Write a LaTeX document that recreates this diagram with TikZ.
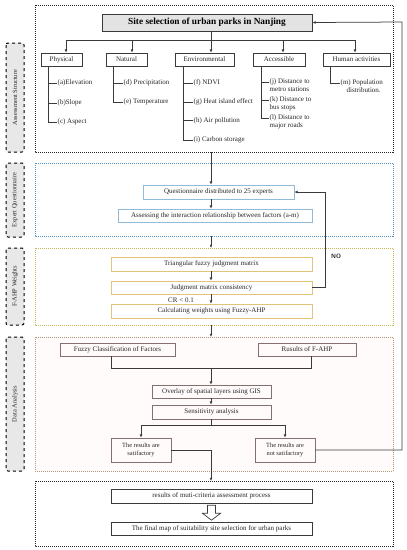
\documentclass[tikz,border=0pt]{standalone}
\usepackage{fontspec}
\setmainfont{Liberation Serif}
\usetikzlibrary{arrows.meta,calc}
\definecolor{txt}{HTML}{262626}
\definecolor{ln}{HTML}{3A3A3A}
\definecolor{bluefr}{HTML}{4F93C6}
\definecolor{bluebx}{HTML}{8FBCDD}
\definecolor{yelfr}{HTML}{C9B54E}
\definecolor{yelbx}{HTML}{E2C377}
\definecolor{brnfr}{HTML}{B4947A}
\definecolor{brnbx}{HTML}{857070}
\newcommand{\fs}{\fontsize{7.0}{8.0}\selectfont}
\newcommand{\fss}{\fontsize{6.4}{7.4}\selectfont}
\begin{document}
\begin{tikzpicture}[x=1pt,y=-1pt,
  frame/.style={line width=1pt, densely dotted},
  sidelbl/.style={draw=black, dashed, line width=1pt, rounded corners=2pt, fill=gray!18,
    rotate=90, minimum height=18, inner sep=0pt, font=\fss, text=txt},
  box/.style={draw, line width=0.65pt, inner sep=1pt, font=\fs, text=txt, align=center},
  catbox/.style={box, draw=ln, minimum height=13},
  item/.style={font=\fs, text=txt, inner sep=0.5pt, anchor=west, align=left},
  conn/.style={draw=ln, line width=0.75pt},
  arr/.style={conn, -{Latex[length=3.2pt,width=2.8pt]}}
]
\useasboundingbox (0,0) rectangle (407,550);

% side labels
\node[sidelbl, minimum width=109] (l1) at (15,97.5) {Assessment Structure};
\node[sidelbl, minimum width=74] (l2) at (15,200) {Expert Questionnaire};
\node[sidelbl, minimum width=77] (l3) at (15,286.5) {F-AHP Weights};
\node[sidelbl, minimum width=134] (l4) at (15,404) {Data Analysis};

% frames
\draw[frame, draw=black!85] (35,5) rectangle (393,152);
\draw[frame, draw=bluefr] (35,163) rectangle (393,236);
\draw[frame, draw=yelfr] (35,248) rectangle (393,325);
\draw[frame, draw=brnfr, fill=red!1.5] (35,337) rectangle (393,471);
\draw[frame, draw=black!85] (35,481) rectangle (393,546);
\coordinate (f1b) at (211,152);
\coordinate (f2t) at (211,163);
\coordinate (f2b) at (211,236);
\coordinate (f3t) at (211,248);
\coordinate (f3b) at (211,325);
\coordinate (f4t) at (211,337);
\coordinate (f5t) at (211,481);

% title
\node[draw=ln, line width=0.8pt, fill=gray!22, minimum width=210, minimum height=17, inner sep=0pt,
  font=\fontsize{9.3}{10.5}\selectfont\bfseries, text=black] (title) at (207,22.5) {Site selection of urban parks in Nanjing};

% categories
\node[catbox, minimum width=41] (phys) at (61.5,59.5) {Physical};
\node[catbox, minimum width=41] (nat) at (126.5,59.5) {Natural};
\node[catbox, minimum width=59] (env) at (204.5,59.5) {Environmental};
\node[catbox, minimum width=52] (acc) at (279,59.5) {Accessible};
\node[catbox, minimum width=67] (hum) at (356.5,59.5) {Human activities};

\coordinate (b1) at (66,40);
\coordinate (b2) at (132,40);
\coordinate (b3) at (211,40);
\coordinate (b4) at (283,40);
\coordinate (b5) at (355,40);
\draw[conn] (b1) -- (b5);
\draw[conn] (title.south -| b3) -- (b3);
\draw[arr] (b1) -- (b1 |- phys.north);
\draw[arr] (b2) -- (b2 |- nat.north);
\draw[arr] (b3) -- (b3 |- env.north);
\draw[arr] (b4) -- (b4 |- acc.north);
\draw[arr] (b5) -- (b5 |- hum.north);

% physical items
\node[item] (ia) at (57,83) {(a)Elevation};
\node[item] (ib) at (57,103) {(b)Slope};
\node[item] (ic) at (57,122) {(c) Aspect};
\coordinate (vp) at (48,66);
\draw[conn] (vp) -- (vp |- ic.west) -- (ic.west);
\draw[conn] (vp |- ia.west) -- (ia.west);
\draw[conn] (vp |- ib.west) -- (ib.west);

% natural items
\node[item] (id) at (123,83) {(d) Precipitation};
\node[item] (ie) at (123,102) {(e) Temperature};
\coordinate (vn) at (113,66);
\draw[conn] (vn) -- (vn |- ie.west) -- (ie.west);
\draw[conn] (vn |- id.west) -- (id.west);

% environmental items
\node[item] (iff) at (193,83) {(f) NDVI};
\node[item] (ig) at (193,102) {(g) Heat island effect};
\node[item] (ih) at (193,120.5) {(h) Air pollution};
\node[item] (ii) at (193,140) {(i) Carbon storage};
\coordinate (ve) at (183,66);
\draw[conn] (ve) -- (ve |- ii.west) -- (ii.west);
\draw[conn] (ve |- iff.west) -- (iff.west);
\draw[conn] (ve |- ig.west) -- (ig.west);
\draw[conn] (ve |- ih.west) -- (ih.west);

% accessible items
\node[item, anchor=north west] (ij) at (269,78) {(j) Distance to\\metro stations};
\node[item, anchor=north west] (ik) at (269,96) {(k) Distance to\\bus stops};
\node[item, anchor=north west] (il) at (269,114) {(l) Distance to\\major roads};
\coordinate (va) at (261,66);
\coordinate (tj) at ($(ij.north west)+(0,4.5)$);
\coordinate (tk) at ($(ik.north west)+(0,4.5)$);
\coordinate (tl) at ($(il.north west)+(0,4.5)$);
\draw[conn] (va) -- (va |- tl) -- (tl);
\draw[conn] (va |- tj) -- (tj);
\draw[conn] (va |- tk) -- (tk);

% human items
\node[item, anchor=north west] (im) at (340,79) {(m) Population\\\hspace*{6pt}distribution.};
\coordinate (vh) at (330,66);
\coordinate (tm) at ($(im.north west)+(0,4.5)$);
\draw[conn] (vh) -- (vh |- tm) -- (tm);

% section 2
\node[box, draw=bluebx, minimum width=151, minimum height=14] (q) at (218.5,192) {Questionnaire distributed to 25 experts};
\node[box, draw=bluebx, minimum width=194, minimum height=13] (as) at (215,215.5) {Assessing the interaction relationship between factors (a-m)};
\draw[arr] (f1b) -- (q.north -| f1b);
\draw[arr] (q.south -| f1b) -- (as.north -| f1b);
\draw[arr] (f2b) -- (f3t);

% section 3
\node[box, draw=yelbx, minimum width=201, minimum height=14] (tm3) at (211.5,264) {Triangular fuzzy judgment matrix};
\node[box, draw=yelbx, minimum width=201, minimum height=13] (jm) at (211.5,287.5) {Judgment matrix consistency};
\node[box, draw=yelbx, minimum width=201, minimum height=14] (cw) at (211.5,311) {Calculating weights using Fuzzy-AHP};
\draw[arr] (tm3.south -| f1b) -- (jm.north -| f1b);
\draw[arr] (jm.south -| f1b) -- (cw.north -| f1b);
\node[font=\fs, text=txt, inner sep=0pt] (cr) at (181,300) {CR < 0.1};
\coordinate (nox) at (325,192);
\draw[arr] (jm.east) -- (jm.east -| nox) -- (nox) -- (q.east);
\node[font=\fontsize{6.2}{7}\selectfont\sffamily\bfseries, text=txt, inner sep=0pt] (no) at (336,256) {NO};
\draw[arr] (f3b) -- (f4t);

% section 4
\node[box, draw=brnbx, minimum width=115, minimum height=13] (fz) at (117.5,349.5) {Fuzzy Classification of Factors};
\node[box, draw=brnbx, minimum width=98, minimum height=13] (rs) at (307,349.5) {Rusults of F-AHP};
\node[box, draw=brnbx, minimum width=119, minimum height=13] (ov) at (211.5,391.5) {Overlay of spatial layers using GIS};
\node[box, draw=brnbx, minimum width=119, minimum height=14] (se) at (211.5,412) {Sensitivity analysis};
\node[box, draw=brnbx, minimum width=60, minimum height=24, font=\fss] (sat) at (141,450) {The results are\\satifactory};
\node[box, draw=brnbx, minimum width=60, minimum height=24, font=\fss] (nsat) at (285,450) {The results are\\not satifactory};
\coordinate (mj) at (211,368);
\coordinate (fzx) at (111,356);
\coordinate (rsx) at (311,356);
\draw[conn] (fz.south -| fzx) -- (fzx |- mj) -- (rsx |- mj) -- (rs.south -| rsx);
\draw[arr] (mj) -- (ov.north -| mj);
\draw[arr] (ov.south -| mj) -- (se.north -| mj);
\coordinate (sp) at (211,425);
\draw[conn] (se.south -| sp) -- (sp);
\draw[arr] (sp) -| (sat.north);
\draw[arr] (sp) -| (nsat.north);
\draw[arr] (sat.east) -| (f5t);
\coordinate (fbx) at (402,22);
\draw[arr] (nsat.east) -- (nsat.east -| fbx) -- (fbx) -- (title.east);

% section 5
\node[box, draw=ln, minimum width=201, minimum height=14] (rm) at (211.5,496) {results of muti-criteria assessment process};
\node[box, draw=ln, minimum width=201, minimum height=13] (fm) at (211.5,528.5) {The final map of suitability site selection for urban parks};
\draw[draw=ln, line width=0.7pt, fill=white]
  ($(rm.south)+(-4,2)$) -- ($(rm.south)+(4,2)$) -- ($(rm.south)+(4,10)$) -- ($(rm.south)+(9,10)$)
  -- ($(fm.north)+(0,-1.5)$) -- ($(rm.south)+(-9,10)$) -- ($(rm.south)+(-4,10)$) -- cycle;
\end{tikzpicture}
\end{document}
